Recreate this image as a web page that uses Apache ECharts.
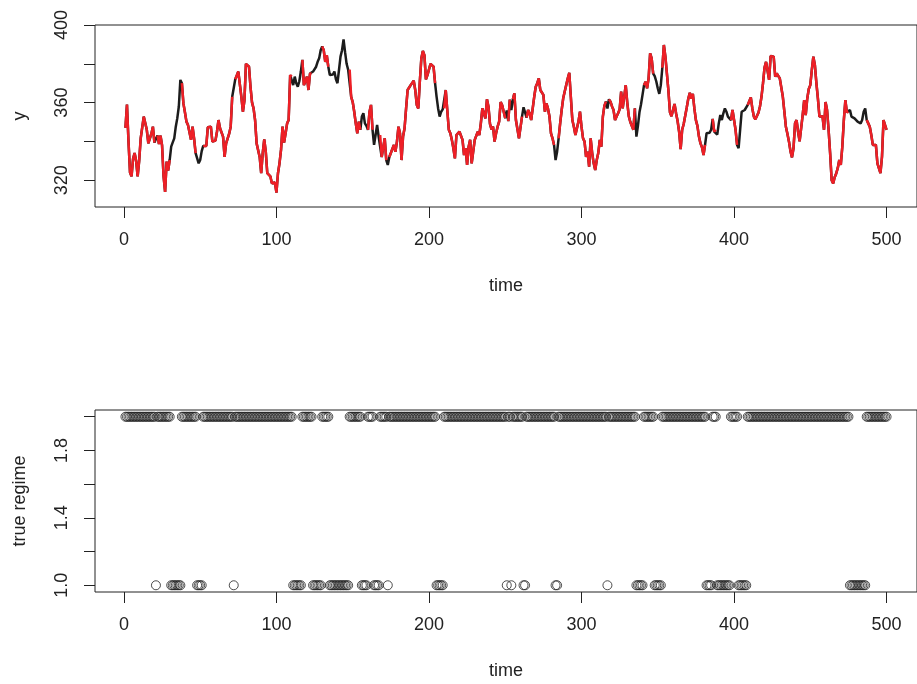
<!DOCTYPE html>
<html>
<head>
<meta charset="utf-8">
<script src="https://cdn.jsdelivr.net/npm/echarts@6/dist/echarts.min.js"></script>
<style>
  html, body { margin: 0; padding: 0; background: #ffffff; }
  #chart { width: 917px; height: 684px; }
</style>
</head>
<body>
<div id="chart"></div>
<script>
// Observed series y at time 1..500
const y = [
  347, 359, 340, 324, 322, 331, 334, 330, 322, 330,
  341.6, 342, 352.8, 352.4, 346, 339, 340, 344, 347.6, 339.4,
  339.4, 343, 338.7, 343, 338, 322, 314, 329.6, 325, 330.4,
  337.3, 339.5, 341.6, 347.6, 352, 358, 371.7, 370, 359.6, 355,
  350.2, 348.5, 348, 340.8, 347.6, 341.6, 334, 334, 328.7, 330.4,
  335, 337.7, 338.2, 337.7, 347.3, 348, 347.6, 339.9, 339, 340.4,
  345, 351, 346.8, 347.3, 342.5, 332, 339, 338.2, 344, 347.6,
  363, 364, 372, 374, 376, 376.8, 363, 355.3, 361, 380,
  381, 378.5, 368, 360, 357, 351, 339, 340, 332, 323.6,
  334, 341, 334.7, 323.6, 324.4, 322, 318.4, 319, 318.8, 313.6,
  323.6, 328.7, 335.6, 347.6, 339.4, 344.2, 349.3, 351, 374.2, 373.4,
  369, 373.4, 370, 368.2, 371, 376, 382, 369, 371, 373.4,
  366.5, 375, 375, 376, 376.8, 378.5, 381, 382.8, 387, 389,
  387, 381, 384.5, 378.5, 374.2, 375, 374.5, 376, 372, 370,
  376.8, 383.7, 387, 392.6, 386, 380, 377, 377, 363, 360.3,
  355.3, 349.3, 344.2, 350.2, 346, 352.8, 354.5, 349.3, 348, 346,
  355.3, 358.8, 346, 338.2, 343.3, 348.5, 342.5, 343.3, 332, 331.8,
  341.6, 330.4, 327.9, 332, 334, 334.7, 338.2, 334.7, 339.9, 347.6,
  344.2, 330.4, 342.5, 346.8, 357, 366.5, 367.4, 369, 370, 371.3,
  366.5, 358.8, 357, 370.8, 382.8, 386.6, 384.5, 372, 374.2, 375,
  380, 379.4, 378.5, 370, 363, 357, 352.8, 355.3, 356.5, 357,
  366.5, 356.2, 346, 344.2, 340.8, 336.5, 331.3, 343.3, 343.3, 345,
  344.2, 340.8, 333, 336.5, 327.9, 337.3, 340.8, 328.7, 328.4, 340.8,
  341.6, 345, 343.3, 349.3, 357, 358, 351.9, 361.7, 358, 349,
  346.2, 347.6, 339.9, 344.2, 347.6, 350.2, 360.3, 358.6, 355.3, 352,
  356, 350.5, 361.5, 356.2, 361.7, 364.8, 351, 350.2, 341.6, 341.6,
  352.8, 357.6, 355, 352.3, 356.2, 354.5, 351, 352, 363, 368.2,
  370, 372.5, 366.5, 366.5, 364, 355.3, 359.6, 357, 352.8, 344.2,
  341.6, 338.2, 330.4, 334.7, 341.6, 349.3, 356.2, 362.2, 365.7, 366.5,
  372.5, 375.4, 363, 351, 347.6, 343.3, 346.8, 350.2, 355.3, 347.6,
  341.6, 339.9, 332, 334.7, 327, 341.6, 334, 328.7, 325.3, 330.4,
  334, 340.8, 337.3, 352.8, 358.3, 360.5, 357, 361.7, 360.5, 358,
  356.2, 351, 352.8, 354.5, 356.5, 365.7, 357, 356.2, 369, 360,
  353, 350, 350, 346, 357, 342.5, 348, 355, 359, 364,
  369, 370.8, 367.4, 372.5, 385.4, 382.8, 375, 373.7, 371, 367.4,
  364.5, 369, 378, 389.7, 383.7, 382.8, 366, 355, 353, 356.2,
  359.3, 354.5, 350.5, 345, 336, 346, 349, 349.3, 357.5, 362,
  365, 362, 364.5, 357, 351, 348, 342.5, 339, 337, 333,
  338.2, 344.2, 345, 344.5, 346, 351.6, 345, 346, 343.5, 349.3,
  353.6, 351, 354.5, 357, 355.3, 352.8, 353.6, 351, 356.2, 357,
  346, 338.2, 336.5, 346, 355.3, 355.9, 356.2, 356.5, 358.8, 359.6,
  362.7, 357, 352.8, 351.4, 351.9, 354.8, 358, 363, 370, 378,
  381, 382, 371.7, 384, 384.9, 383.7, 373.4, 375, 374, 372.5,
  371.7, 363, 355.3, 347.6, 344, 340, 335, 331.8, 336.5, 349.3,
  351, 345, 340, 341, 353.6, 361.3, 353.6, 362, 367, 369,
  376.8, 383.7, 379.4, 370, 362, 352.8, 352, 353, 346, 360.3,
  356.2, 346, 334, 320, 318.4, 321.5, 323.5, 326.2, 330.4, 327.9,
  337.3, 351, 361.3, 355, 355.3, 356.2, 352.8, 353.6, 351.9, 352.5,
  350.2, 349.3, 349.3, 351, 355.3, 357, 351, 349.3, 347.6, 343.3,
  338.2, 337.3, 338.2, 328.7, 328.5, 323.6, 332, 351, 352, 346
];

// Time spans [from, to] spent in regime 1; every other time is regime 2
const regimeOneSpans = [
  [21, 21], [31, 37], [48, 51], [72, 72], [111, 116], [124, 129],
  [135, 147], [156, 159], [164, 167], [173, 173], [205, 209],
  [251, 251], [254, 254], [262, 263], [283, 284], [317, 317],
  [336, 340], [348, 352], [382, 385], [389, 397], [403, 408], [476, 486]
];

const timeTicks = [0, 100, 200, 300, 400, 500];
const yTicks = [320, 340, 360, 380, 400];
const yTickLabels = [320, 360, 400];
const regimeTicks = [1.0, 1.2, 1.4, 1.6, 1.8, 2.0];
const regimeTickLabels = [1.0, 1.4, 1.8];

// Build regime per time step
const regime = y.map(() => 2);
regimeOneSpans.forEach(([a, b]) => {
  for (let t = a; t <= b; t++) regime[t - 1] = 1;
});

const fullLine = y.map((v, i) => [i + 1, v]);
const regimeTwoLine = y.map((v, i) => [i + 1, regime[i] === 2 ? v : null]);
const regimePoints = regime.map((r, i) => [i + 1, r]);

const FONT = '"Liberation Sans", Arial, Helvetica, sans-serif';
const TXT = '#222222';
const FS = 18;

function xAxisFor(gridIndex) {
  return {
    type: 'value', gridIndex,
    min: -18.96, max: 519.96,
    name: 'time', nameLocation: 'middle', nameGap: 70,
    nameTextStyle: { fontFamily: FONT, fontSize: FS, color: TXT },
    axisLine: { show: false, onZero: false },
    splitLine: { show: false },
    axisTick: { show: true, length: 11, customValues: timeTicks,
      lineStyle: { color: '#222', width: 1 } },
    axisLabel: { show: true, customValues: timeTicks, margin: 24,
      fontFamily: FONT, fontSize: FS, color: TXT }
  };
}

function yAxisFor(gridIndex, min, max, name, ticks, labels, digits) {
  return {
    type: 'value', gridIndex, min, max,
    name, nameLocation: 'middle', nameGap: 66, nameRotate: 90,
    nameTextStyle: { fontFamily: FONT, fontSize: FS, color: TXT },
    axisLine: { show: false, onZero: false }, splitLine: { show: false },
    axisTick: { show: true, length: 11, customValues: ticks,
      lineStyle: { color: '#222', width: 1 } },
    axisLabel: { show: true, customValues: labels, rotate: 90, margin: 24,
      fontFamily: FONT, fontSize: FS, color: TXT,
      formatter: v => Number(v).toFixed(digits) }
  };
}

const chart = echarts.init(document.getElementById('chart'), null, { renderer: 'canvas' });
chart.setOption({
  animation: false,
  backgroundColor: '#ffffff',
  grid: [
    { left: 95, right: -3, top: 25, height: 182, show: true,
      borderColor: '#222', borderWidth: 1, backgroundColor: 'transparent' },
    { left: 95, right: -3, top: 410, height: 182, show: true,
      borderColor: '#222', borderWidth: 1, backgroundColor: 'transparent' }
  ],
  xAxis: [xAxisFor(0), xAxisFor(1)],
  yAxis: [
    yAxisFor(0, 306.2, 400, 'y', yTicks, yTickLabels, 0),
    yAxisFor(1, 0.96, 2.04, 'true regime', regimeTicks, regimeTickLabels, 1)
  ],
  series: [
    {
      type: 'line', xAxisIndex: 0, yAxisIndex: 0, data: fullLine,
      showSymbol: false, symbol: 'none',
      lineStyle: { color: '#1c1c1c', width: 2.5 }, z: 2
    },
    {
      type: 'line', xAxisIndex: 0, yAxisIndex: 0, data: regimeTwoLine,
      showSymbol: false, symbol: 'none', connectNulls: false,
      lineStyle: { color: '#ee1f26', width: 2.5 }, z: 3
    },
    {
      type: 'scatter', xAxisIndex: 1, yAxisIndex: 1, data: regimePoints,
      symbol: 'circle', symbolSize: 9,
      itemStyle: { color: 'rgba(0,0,0,0)', borderColor: '#222', borderWidth: 1 }
    }
  ]
});
</script>
</body>
</html>
